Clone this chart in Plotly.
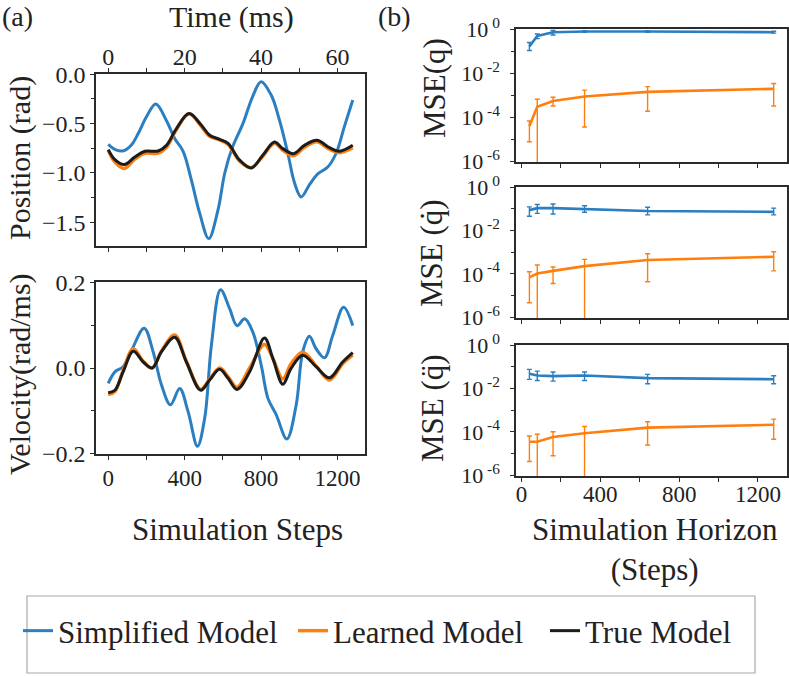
import numpy as np
import plotly.graph_objects as go

# ---------------- data ----------------
# (a) trajectories, x = simulation steps
pos_simpl_steps = [0, 40, 80, 120, 157, 200, 249, 305, 348, 392, 435, 479, 526, 574, 610, 650,
                   705, 757, 800, 853, 897, 940, 975, 1010, 1053, 1097, 1149, 1193, 1236, 1280]
pos_simpl = [-0.71, -0.765, -0.775, -0.72, -0.60, -0.43, -0.30, -0.47, -0.65, -0.78, -1.07, -1.41,
             -1.665, -1.38, -1.0, -0.74, -0.50, -0.22, -0.075, -0.21, -0.47, -0.80, -1.10, -1.243,
             -1.12, -1.01, -0.94, -0.80, -0.53, -0.26]

pos_true_steps = [0, 35, 84, 139, 192, 261, 305, 357, 423, 488, 531, 583, 627, 688, 749, 809,
                  870, 914, 970, 1027, 1092, 1158, 1210, 1280]
pos_true = [-0.763, -0.865, -0.915, -0.838, -0.78, -0.777, -0.72, -0.55, -0.398, -0.517, -0.618,
            -0.659, -0.70, -0.87, -0.949, -0.82, -0.686, -0.753, -0.804, -0.72, -0.669, -0.743,
            -0.78, -0.72]
pos_learned = [-0.77, -0.89, -0.955, -0.86, -0.80, -0.80, -0.74, -0.56, -0.40, -0.53, -0.63,
               -0.665, -0.71, -0.88, -0.945, -0.83, -0.70, -0.77, -0.825, -0.74, -0.685, -0.76,
               -0.795, -0.745]

vel_simpl_steps = [0, 35, 78, 122, 188, 235, 279, 326, 374, 418, 467, 505, 540, 588, 636, 674,
                   714, 757, 801, 836, 879, 935, 984, 1018, 1053, 1088, 1132, 1175, 1232, 1280]
vel_simpl = [-0.036, -0.009, 0.003, 0.041, 0.093, 0.038, -0.040, -0.086, -0.048, -0.102, -0.183,
             -0.117, 0.053, 0.183, 0.138, 0.099, 0.115, 0.084, 0.006, -0.071, -0.109, -0.166,
             -0.086, 0.038, 0.074, 0.045, 0.024, 0.076, 0.142, 0.099]

vel_true_steps = [0, 35, 78, 131, 183, 230, 279, 348, 409, 484, 531, 583, 627, 674, 740, 818,
                  862, 914, 957, 1018, 1088, 1158, 1227, 1280]
vel_true = [-0.058, -0.052, -0.009, 0.039, 0.014, 0.0, 0.038, 0.072, 0.014, -0.052, -0.028,
            -0.003, -0.024, -0.050, -0.009, 0.070, 0.022, -0.038, -0.001, 0.030, 0.003, -0.023,
            0.014, 0.036]
vel_learned = [-0.062, -0.055, -0.005, 0.045, 0.016, 0.0, 0.040, 0.077, 0.016, -0.050, -0.026,
               0.0, -0.020, -0.045, 0.0, 0.055, 0.022, -0.025, 0.010, 0.037, 0.005, -0.028,
               0.010, 0.030]

# (b) MSE vs horizon, values given as log10 exponents
horizon = [40, 80, 160, 320, 640, 1280]

q_simpl = [-0.79, -0.31, -0.14, -0.11, -0.11, -0.14]
q_simpl_hi = [-0.61, -0.22, -0.06, -0.07, -0.07, -0.10]
q_simpl_lo = [-0.97, -0.43, -0.27, -0.15, -0.15, -0.18]
q_learn = [-4.40, -3.52, -3.26, -3.06, -2.85, -2.71]
q_learn_hi = [-4.17, -3.18, -3.09, -2.77, -2.61, -2.47]
q_learn_lo = [-5.11, -7.0, -3.49, -4.44, -3.73, -3.49]

qd_simpl = [-1.06, -0.97, -0.97, -1.01, -1.10, -1.14]
qd_simpl_hi = [-0.91, -0.80, -0.78, -0.86, -0.93, -0.97]
qd_simpl_lo = [-1.34, -1.21, -1.24, -1.16, -1.28, -1.28]
qd_learn = [-4.16, -3.98, -3.86, -3.64, -3.36, -3.21]
qd_learn_hi = [-3.90, -3.59, -3.68, -3.33, -3.07, -2.98]
qd_learn_lo = [-5.33, -7.0, -4.44, -7.0, -4.36, -3.86]

qdd_simpl = [-1.32, -1.40, -1.43, -1.40, -1.52, -1.57]
qdd_simpl_hi = [-1.12, -1.20, -1.24, -1.24, -1.35, -1.41]
qdd_simpl_lo = [-1.58, -1.63, -1.66, -1.63, -1.78, -1.78]
qdd_learn = [-4.45, -4.45, -4.23, -4.06, -3.80, -3.67]
qdd_learn_hi = [-4.19, -4.11, -3.99, -3.75, -3.53, -3.41]
qdd_learn_lo = [-5.36, -7.0, -5.10, -7.0, -4.60, -4.34]

legend_names = ["Simplified Model", "Learned Model", "True Model"]

BLUE = "#2b7fc0"
ORANGE = "#ff7f0e"
BLACK = "#1c1c1c"
FONT = "Liberation Serif"
W, H = 789, 676


def px_x(p):
    return p / W


def px_y(p):
    return 1 - p / H


fig = go.Figure()

# ---- (a) top: position
fig.add_trace(go.Scatter(x=pos_simpl_steps, y=pos_simpl, mode="lines", line=dict(color=BLUE, width=3, shape="spline"),
                         name=legend_names[0], legend="legend", xaxis="x", yaxis="y"))
fig.add_trace(go.Scatter(x=pos_true_steps, y=pos_learned, mode="lines", line=dict(color=ORANGE, width=3.4, shape="spline"),
                         name=legend_names[1], legend="legend2", xaxis="x", yaxis="y"))
fig.add_trace(go.Scatter(x=pos_true_steps, y=pos_true, mode="lines", line=dict(color=BLACK, width=3, shape="spline"),
                         name=legend_names[2], legend="legend3", xaxis="x", yaxis="y"))
# empty trace so the top time axis gets drawn
fig.add_trace(go.Scatter(x=[], y=[], xaxis="x2", yaxis="y", showlegend=False))

# ---- (a) bottom: velocity
fig.add_trace(go.Scatter(x=vel_simpl_steps, y=vel_simpl, mode="lines", line=dict(color=BLUE, width=3, shape="spline"),
                         showlegend=False, xaxis="x3", yaxis="y3"))
fig.add_trace(go.Scatter(x=vel_true_steps, y=vel_learned, mode="lines", line=dict(color=ORANGE, width=3.4, shape="spline"),
                         showlegend=False, xaxis="x3", yaxis="y3"))
fig.add_trace(go.Scatter(x=vel_true_steps, y=vel_true, mode="lines", line=dict(color=BLACK, width=3, shape="spline"),
                         showlegend=False, xaxis="x3", yaxis="y3"))


# ---- (b) MSE panels
def err_trace(y_log, hi_log, lo_log, color, xa, ya):
    y = 10 ** np.array(y_log)
    hi = 10 ** np.array(hi_log)
    lo = 10 ** np.array(lo_log)
    return go.Scatter(x=horizon, y=y, mode="lines", line=dict(color=color, width=2.6),
                      error_y=dict(type="data", symmetric=False, array=hi - y, arrayminus=y - lo,
                                   color=color, thickness=1.4, width=2.5),
                      showlegend=False, xaxis=xa, yaxis=ya)


panels = [(q_simpl, q_simpl_hi, q_simpl_lo, q_learn, q_learn_hi, q_learn_lo, "x4", "y4"),
          (qd_simpl, qd_simpl_hi, qd_simpl_lo, qd_learn, qd_learn_hi, qd_learn_lo, "x5", "y5"),
          (qdd_simpl, qdd_simpl_hi, qdd_simpl_lo, qdd_learn, qdd_learn_hi, qdd_learn_lo, "x6", "y6")]
for s, sh, sl, l, lh, ll, xa, ya in panels:
    fig.add_trace(err_trace(s, sh, sl, BLUE, xa, ya))
    fig.add_trace(err_trace(l, lh, ll, ORANGE, xa, ya))

# ---------------- axes ----------------
frame = dict(showline=True, linecolor="#2b2b2b", linewidth=1.5, mirror=True, showgrid=False,
             zeroline=False, ticks="outside", ticklen=4, tickwidth=1.2, tickcolor="#2b2b2b",
             automargin=False, tickfont=dict(family=FONT, size=24, color="#222"))

left_dom = [px_x(96), px_x(365)]
step_range = [-64, 1344]

fig.update_layout(
    template="none",
    xaxis=dict(frame, domain=left_dom, anchor="y", range=step_range, tick0=0, dtick=200,
               showticklabels=False),
    xaxis2=dict(frame, overlaying="x", side="top", anchor="y", range=[-3.2, 67.2], tick0=0, dtick=20,
                mirror=False, minor=dict(dtick=10, ticks="outside", ticklen=4, tickcolor="#2b2b2b"),
                ticklabelstandoff=-6),
    yaxis=dict(frame, domain=[px_y(246), px_y(74)], anchor="x", range=[-1.74, 0.003], dtick=0.5,
               tickformat=".1f", minor=dict(dtick=0.25, ticks="outside", ticklen=3, tickcolor="#2b2b2b")),
    xaxis3=dict(frame, domain=left_dom, anchor="y3", range=step_range, tick0=0, dtick=400,
                tickfont=dict(family=FONT, size=23, color="#222"), ticklabelstandoff=-1,
                minor=dict(dtick=200, ticks="outside", ticklen=4, tickcolor="#2b2b2b")),
    yaxis3=dict(frame, domain=[px_y(454), px_y(282)], anchor="x3", range=[-0.201, 0.201], dtick=0.2,
                tickformat=".1f", minor=dict(dtick=0.1, ticks="outside", ticklen=3, tickcolor="#2b2b2b")),
)

right_dom = [px_x(516), px_x(786.5)]
right_y = {"4": (162, 29), "5": (318, 187), "6": (476, 345)}
log_ticks = [1, 1e-2, 1e-4, 1e-6]
log_text = ["10<sup> 0</sup>", "10<sup> -2</sup>", "10<sup> -4</sup>", "10<sup> -6</sup>"]
for k, (b, t) in right_y.items():
    fig.layout["xaxis" + k] = dict(frame, domain=right_dom, anchor="y" + k, range=[-28, 1345], tick0=0,
                                   dtick=400, showticklabels=(k == "6"),
                                   tickfont=dict(family=FONT, size=23, color="#222"), ticklabelstandoff=-7,
                                   minor=dict(dtick=200, ticks="outside", ticklen=4, tickcolor="#2b2b2b"))
    fig.layout["yaxis" + k] = dict(frame, domain=[px_y(b), px_y(t)], anchor="x" + k, type="log",
                                   range=[-6.03, 0.005], tickvals=log_ticks, ticktext=log_text,
                                   tickfont=dict(family=FONT, size=22, color="#222"), ticklabelstandoff=6,
                                   minor=dict(tickvals=[1e-1, 1e-3, 1e-5], ticks="outside", ticklen=3,
                                              tickcolor="#2b2b2b"))

# ---------------- text ----------------
def note(text, x, y, size=30, angle=0, xanchor="center"):
    fig.add_annotation(text=text, x=px_x(x), y=px_y(y), xref="paper", yref="paper", showarrow=False,
                       textangle=angle, xanchor=xanchor, yanchor="middle",
                       font=dict(family=FONT, size=size, color="#222"))


note("(a)", 0, 17, size=28, xanchor="left")
note("(b)", 376, 17, size=28, xanchor="left")
note("Time (ms)", 231, 17)
note("Position (rad)", 20, 158, angle=-90)
note("Velocity(rad/ms)", 20, 374, angle=-90)
note("Simulation Steps", 237, 529, size=31)
note("Simulation Horizon<br>(Steps)", 655, 549, size=31)
note("MSE(q)", 434, 88, size=31, angle=-90)
note("MSE (q\u0307)", 432, 253, size=31, angle=-90)
note("MSE (q\u0308)", 432, 408, size=31, angle=-90)

# legend frame
fig.add_shape(type="rect", xref="paper", yref="paper", x0=px_x(27), x1=px_x(755), y0=px_y(673), y1=px_y(596),
              line=dict(color="#aaaaaa", width=1.2))

legend_style = dict(orientation="h", xanchor="left", y=px_y(631), yanchor="middle",
                    font=dict(family=FONT, size=31, color="#222"), bgcolor="rgba(0,0,0,0)",
                    borderwidth=0, itemwidth=30)

fig.update_layout(
    width=W, height=H,
    margin=dict(l=0, r=0, t=0, b=0, pad=0),
    paper_bgcolor="white", plot_bgcolor="white",
    font=dict(family=FONT, color="#222"),
    showlegend=True,
    legend=dict(legend_style, x=px_x(18)),
    legend2=dict(legend_style, x=px_x(293)),
    legend3=dict(legend_style, x=px_x(545)),
)

fig.write_html("out.html", config={"displayModeBar": False},
               post_script="document.body.style.margin='0px';")
